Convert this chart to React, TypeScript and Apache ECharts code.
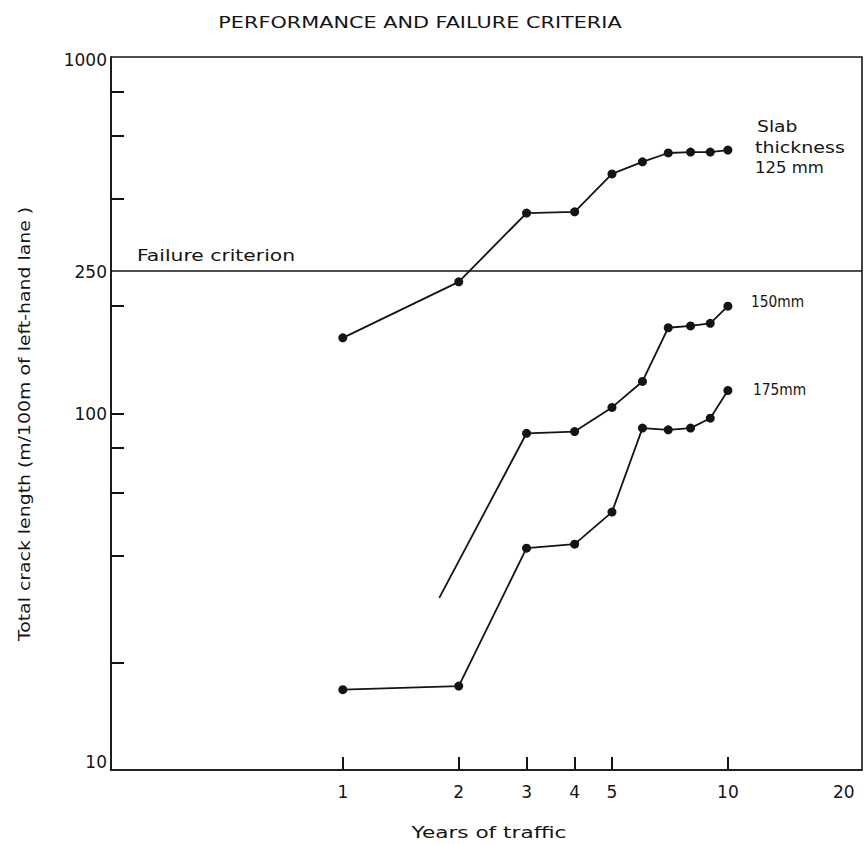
import React, { useEffect, useRef } from "react";
import * as echarts from "echarts";

// ---- data ----
const years = [1, 2, 3, 4, 5, 6, 7, 8, 9, 10];
const slab125 = [163, 234, 365, 368, 470, 508, 538, 541, 541, 548];
const slab150Years = [1.78, 3, 4, 5, 6, 7, 8, 9, 10];
const slab150 = [30.4, 88, 89, 104, 123, 174, 176, 179, 200];
const slab175 = [16.8, 17.2, 41.9, 43.0, 52.9, 91, 90, 91, 97, 116];
const failureCriterion = 250;

const xTickValues = [1, 2, 3, 4, 5, 10];
const xLabelValues = [1, 2, 3, 4, 5, 10, 20];
const yTickValues = [20, 40, 60, 80, 100, 200, 400, 600, 800];
const yLabelValues = [10, 100, 250, 1000];
const xRange = [0.25, 22.3];
const yRange = [10, 1000];

const FONT = "DejaVu Sans";
const INK = "#141414";

const lg = (v: number) => Math.log10(v);
const fmt = (v: number) => String(Math.round(Math.pow(10, v)));

function label(text: string, x: number, y: number, opts: any = {}) {
  return {
    type: "text",
    x,
    y,
    scaleX: opts.scaleX ?? 1,
    rotation: opts.rotation ?? 0,
    style: {
      text,
      fontFamily: opts.fontFamily ?? FONT,
      fontSize: opts.fontSize ?? 15,
      fill: INK,
      textAlign: opts.align ?? "left",
      textVerticalAlign: "middle",
    },
  };
}

export default function App() {
  const ref = useRef<HTMLDivElement>(null);

  useEffect(() => {
    if (!ref.current) return;
    const chart = echarts.init(ref.current, undefined, { renderer: "svg" });

    const lineStyle = { color: INK, width: 1.8 };
    const itemStyle = { color: INK };

    const option: any = {
      animation: false,
      backgroundColor: "#ffffff",
      grid: {
        left: 111,
        top: 57,
        right: 3,
        bottom: 74,
        show: true,
        borderColor: INK,
        borderWidth: 1.6,
        backgroundColor: "transparent",
      },
      xAxis: {
        type: "value",
        min: lg(xRange[0]),
        max: lg(xRange[1]),
        splitLine: { show: false },
        axisLine: { show: true, onZero: false, lineStyle: { color: INK, width: 1.6 } },
        axisTick: {
          show: true,
          inside: true,
          length: 13,
          lineStyle: { color: INK, width: 2 },
          customValues: xTickValues.map(lg),
        },
        axisLabel: {
          show: true,
          margin: 13,
          color: INK,
          fontFamily: FONT,
          fontSize: 17,
          customValues: xLabelValues.map(lg),
          formatter: (v: number) => fmt(v),
        },
      },
      yAxis: {
        type: "value",
        min: lg(yRange[0]),
        max: lg(yRange[1]),
        splitLine: { show: false },
        axisLine: { show: true, onZero: false, lineStyle: { color: INK, width: 1.6 } },
        axisTick: {
          show: true,
          inside: true,
          length: 13,
          lineStyle: { color: INK, width: 2 },
          customValues: yTickValues.map(lg),
        },
        axisLabel: {
          show: true,
          margin: 4,
          color: INK,
          fontFamily: FONT,
          fontSize: 17,
          customValues: yLabelValues.map(lg),
          formatter: (v: number) => {
            const s = fmt(v);
            if (s === "10") return "{lo|" + s + "}";
            if (s === "1000") return "{hi|" + s + "}";
            return s;
          },
          rich: {
            lo: { fontFamily: FONT, fontSize: 17, color: INK, padding: [0, 0, 16, 0] },
            hi: { fontFamily: FONT, fontSize: 17, color: INK, padding: [6, 0, 0, 0] },
          },
        },
      },
      series: [
        {
          name: "125 mm",
          type: "line",
          data: years.map((x, i) => [lg(x), lg(slab125[i])]),
          symbol: "circle",
          symbolSize: 9,
          lineStyle,
          itemStyle,
          markLine: {
            silent: true,
            symbol: "none",
            label: { show: false },
            lineStyle: { color: INK, width: 1.6, type: "solid" },
            data: [{ yAxis: lg(failureCriterion) }],
          },
        },
        {
          name: "150mm",
          type: "line",
          data: slab150Years.map((x, i) =>
            i === 0
              ? { value: [lg(x), lg(slab150[i])], symbol: "none" }
              : [lg(x), lg(slab150[i])]
          ),
          symbol: "circle",
          symbolSize: 9,
          lineStyle,
          itemStyle,
        },
        {
          name: "175mm",
          type: "line",
          data: years.map((x, i) => [lg(x), lg(slab175[i])]),
          symbol: "circle",
          symbolSize: 9,
          lineStyle,
          itemStyle,
        },
      ],
      graphic: [
        label("PERFORMANCE AND FAILURE CRITERIA", 420, 22, { fontSize: 16, scaleX: 1.3, align: "center" }),
        label("Failure criterion", 137, 255, { fontSize: 16, scaleX: 1.27 }),
        label("Slab", 757, 127, { scaleX: 1.25 }),
        label("thickness", 755, 148, { scaleX: 1.27 }),
        label("125 mm", 755, 168, { scaleX: 1.1 }),
        label("150mm", 751, 302, { fontSize: 15, scaleX: 0.92 }),
        label("175mm", 753, 390, { fontSize: 15, scaleX: 0.92 }),
        label("Years of traffic", 489, 832, { fontSize: 16, scaleX: 1.35, align: "center" }),
        label("Total crack length (m/100m of left-hand lane )", 25, 424, {
          fontSize: 16,
          scaleX: 1.18,
          rotation: Math.PI / 2,
          align: "center",
        }),
      ],
    };

    chart.setOption(option);
    return () => chart.dispose();
  }, []);

  return (
    <div
      ref={ref}
      style={{ position: "fixed", left: 0, top: 0, width: 865, height: 844, background: "#fff" }}
    />
  );
}
